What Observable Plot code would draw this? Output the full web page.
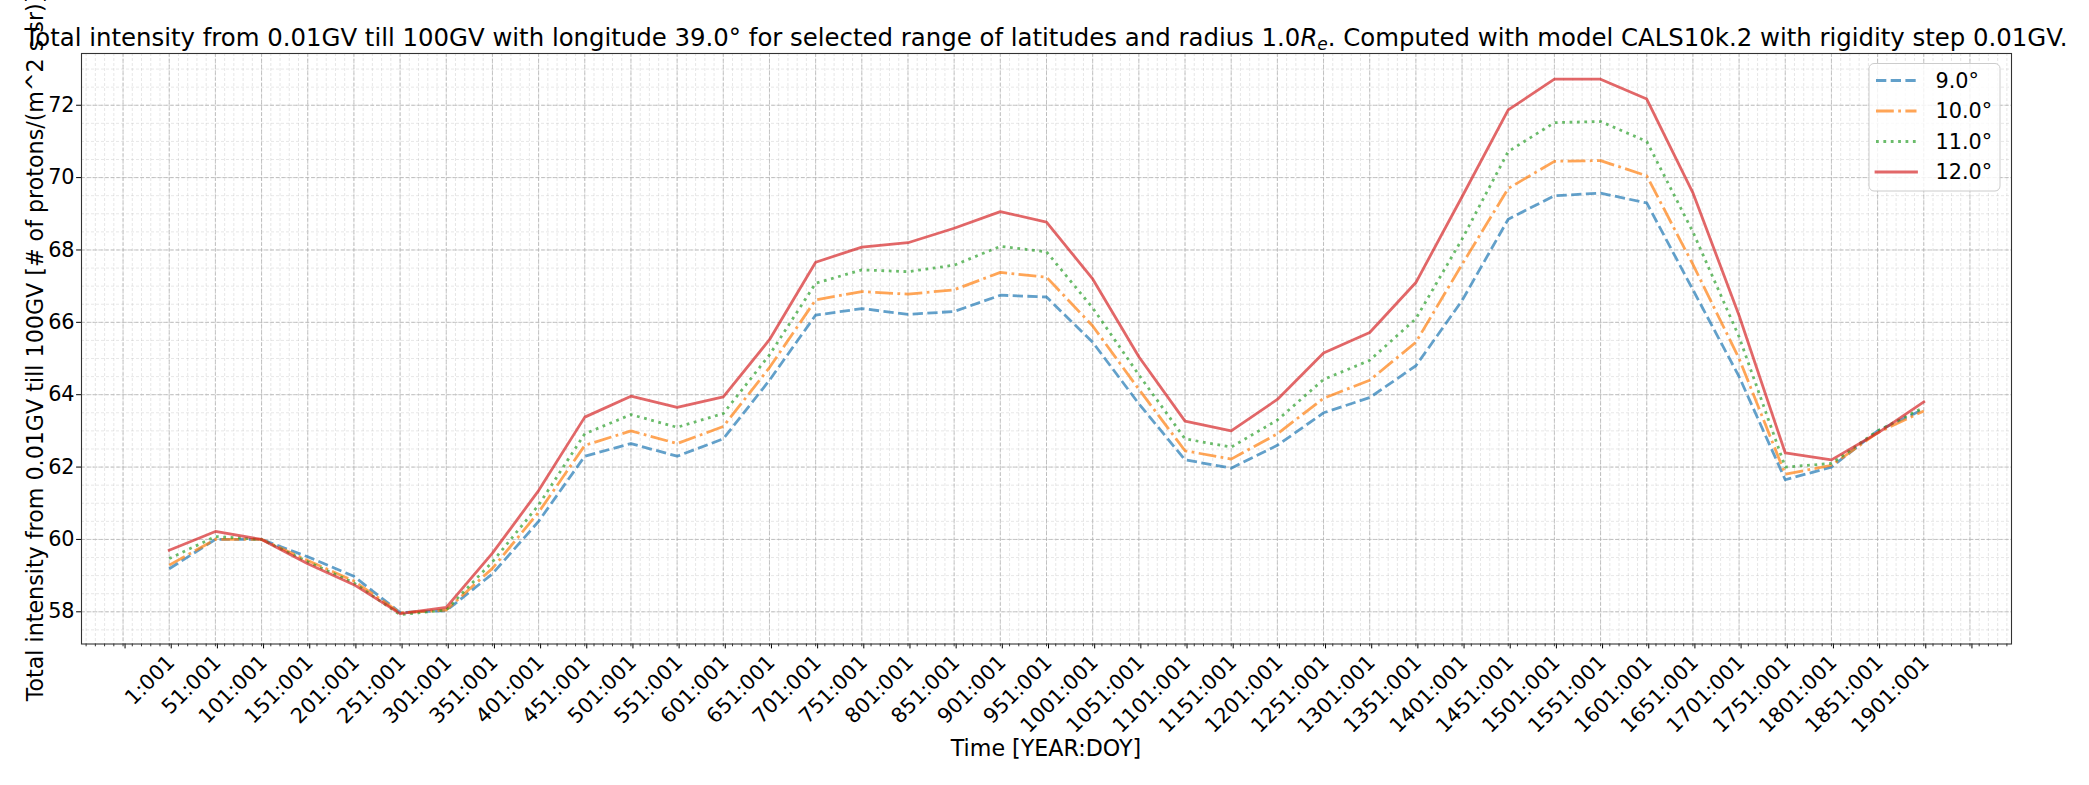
<!DOCTYPE html>
<html><head><meta charset="utf-8">
<script src="https://cdn.jsdelivr.net/npm/d3@7"></script>
<script src="https://cdn.jsdelivr.net/npm/@observablehq/plot@0.6"></script>
<style>
html,body{margin:0;padding:0;background:#fff;}
#chart{width:2089px;height:785px;position:relative;}
svg{font-family:"DejaVu Sans",sans-serif;}
</style></head><body><div id="chart"></div>
<script>
// Day index (x) for every sample
const days = [1,51,101,151,201,251,301,351,401,451,501,551,601,651,701,751,801,851,901,951,
  1001,1051,1101,1151,1201,1251,1301,1351,1401,1451,1501,1551,1601,1651,1701,1751,1801,1851,1901];
// Series values, total intensity, per latitude
const lat9 = [59.19,60.0,60.0,59.52,58.98,57.98,58.03,59.05,60.5,62.3,62.65,62.3,62.78,64.4,66.2,66.38,66.22,66.3,66.75,66.7,
  65.45,63.75,62.2,61.97,62.6,63.5,63.92,64.8,66.6,68.85,69.5,69.57,69.3,66.9,64.5,61.65,62.0,63.0,63.6];
const lat10 = [59.29,60.0,60.0,59.42,58.85,57.97,58.05,59.2,60.75,62.6,63.0,62.65,63.12,64.75,66.62,66.85,66.78,66.9,67.38,67.25,
  65.9,64.15,62.45,62.22,62.92,63.9,64.4,65.45,67.6,69.7,70.45,70.47,70.05,67.6,65.0,61.8,62.05,62.95,63.55];
const lat11 = [59.47,60.08,60.0,59.38,58.8,57.92,58.05,59.38,60.95,62.92,63.45,63.1,63.48,65.1,67.08,67.45,67.4,67.58,68.1,67.95,
  66.4,64.55,62.78,62.55,63.3,64.42,64.95,66.1,68.3,70.72,71.52,71.55,71.0,68.5,65.6,62.0,62.1,63.0,63.65];
const lat12 = [59.70,60.22,60.0,59.33,58.75,57.95,58.12,59.62,61.35,63.38,63.96,63.65,63.94,65.52,67.66,68.08,68.2,68.6,69.06,68.77,
  67.2,65.05,63.27,63.0,63.87,65.15,65.72,67.1,69.47,71.87,72.72,72.72,72.17,69.58,66.19,62.39,62.2,62.94,63.8];
const seriesNames = ["9.0°","10.0°","11.0°","12.0°"];
// Tick positions and labels
const xTickDays = [-49,1,51,101,151,201,251,301,351,401,451,501,551,601,651,701,751,801,851,901,951,
  1001,1051,1101,1151,1201,1251,1301,1351,1401,1451,1501,1551,1601,1651,1701,1751,1801,1851,1901,1951];
const xTickLabels = ["","1:001","51:001","101:001","151:001","201:001","251:001","301:001","351:001","401:001","451:001",
  "501:001","551:001","601:001","651:001","701:001","751:001","801:001","851:001","901:001","951:001",
  "1001:001","1051:001","1101:001","1151:001","1201:001","1251:001","1301:001","1351:001","1401:001","1451:001",
  "1501:001","1551:001","1601:001","1651:001","1701:001","1751:001","1801:001","1851:001","1901:001",""];
const yTicks = [58,60,62,64,66,68,70,72];
const xMinor = d3.range(-89, 1996, 10);
const yMinor = d3.range(57.5, 73.5, 0.5);

const colors = ["#1f77b4","#ff7f0e","#2ca02c","#d62728"];
const dashes = ["10.3,4.4","17.8,4.4,2.78,4.4","2.78,4.6",null];
const lw = 2.78;
const seriesData = [lat9, lat10, lat11, lat12];

const labelOf = new Map(xTickDays.map((d,i)=>[d, xTickLabels[i]]));

const lineMarks = seriesData.map((vals,i)=>Plot.line(days, {
  x: days, y: vals, stroke: colors[i], strokeOpacity: 0.7, strokeWidth: lw,
  strokeDasharray: dashes[i] ?? undefined, strokeLinecap: dashes[i] ? "butt" : "square", strokeLinejoin: "round"
}));

const plot = Plot.plot({
  width: 2089, height: 785,
  marginLeft: 81, marginRight: 78, marginTop: 53, marginBottom: 141.5,
  x: {domain: [-94, 1996]},
  y: {domain: [57.11, 73.43]},
  style: {fontFamily: "'DejaVu Sans', sans-serif", fontSize: "20.8px", color: "#000", background: "#fff"},
  marks: [
    Plot.gridX(xMinor, {stroke: "#b0b0b0", strokeOpacity: 0.3, strokeWidth: 1, strokeDasharray: "3,2"}),
    Plot.gridY(yMinor, {stroke: "#b0b0b0", strokeOpacity: 0.3, strokeWidth: 1, strokeDasharray: "3,2"}),
    Plot.gridX(xTickDays, {stroke: "#b0b0b0", strokeOpacity: 0.75, strokeWidth: 1, strokeDasharray: "4.1,1.8"}),
    Plot.gridY(yTicks, {stroke: "#b0b0b0", strokeOpacity: 0.75, strokeWidth: 1, strokeDasharray: "4.1,1.8"}),
    Plot.axisX(xMinor, {tickSize: 2.8, text: null, label: null, strokeWidth: 0.8}),
    Plot.axisX(xTickDays, {tickSize: 4.9, tickPadding: 10, tickRotate: -45, tickFormat: d => labelOf.get(d), label: null, fontSize: 20.8, dx: 2}),
    Plot.axisY(yTicks, {tickSize: 4.9, tickPadding: 2, label: null, fontSize: 20.8}),
    ...lineMarks,
    Plot.frame({stroke: "#333", strokeWidth: 1.1})
  ]
});
document.getElementById("chart").appendChild(plot);

const svg = d3.select(plot);
// Title
const t = svg.append("text").attr("x", 1046).attr("y", 46).attr("text-anchor", "middle")
  .style("font-size", "24.4px").style("font-family", "'DejaVu Sans', sans-serif").attr("fill", "#000");
t.append("tspan").text("Total intensity from 0.01GV till 100GV with longitude 39.0° for selected range of latitudes and radius 1.0");
t.append("tspan").attr("font-style", "italic").text("R");
t.append("tspan").attr("font-style", "italic").attr("font-size", "17px").attr("dy", 4).text("e");
t.append("tspan").attr("dy", -4).text(". Computed with model CALS10k.2 with rigidity step 0.01GV.");
// Axis labels
svg.append("text").attr("transform", "translate(42.5,348) rotate(-90)").attr("text-anchor", "middle")
  .style("font-size", "22.2px").attr("fill", "#000")
  .text("Total intensity from 0.01GV till 100GV [# of protons/(m^2 s sr)]");
svg.append("text").attr("x", 1046).attr("y", 756).attr("text-anchor", "middle")
  .style("font-size", "22.2px").attr("fill", "#000").text("Time [YEAR:DOY]");
// Legend
const lg = svg.append("g");
lg.append("rect").attr("x", 1869).attr("y", 63.5).attr("width", 131).attr("height", 127.5).attr("rx", 5)
  .attr("fill", "#fff").attr("fill-opacity", 0.8).attr("stroke", "#cccccc").attr("stroke-width", 1);
const rowY = [80.5, 111, 141.5, 172];
seriesNames.forEach((name, i) => {
  lg.append("line").attr("x1", 1876).attr("x2", 1916.5).attr("y1", rowY[i]).attr("y2", rowY[i])
    .attr("stroke", colors[i]).attr("stroke-opacity", 0.7).attr("stroke-width", lw)
    .attr("stroke-dasharray", dashes[i]).attr("stroke-linecap", dashes[i] ? "butt" : "square");
  lg.append("text").attr("x", 1935.5).attr("y", rowY[i]).attr("dy", "0.36em").attr("text-anchor", "start")
    .style("font-size", "20.8px").attr("fill", "#000").text(name);
});
</script></body></html>
